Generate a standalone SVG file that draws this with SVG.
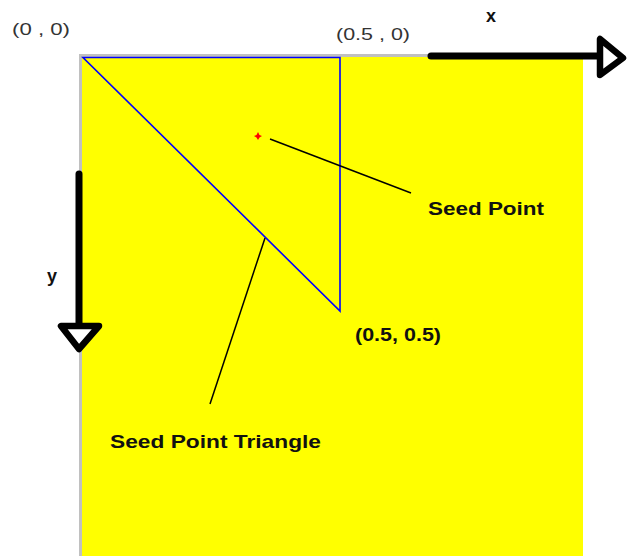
<svg xmlns="http://www.w3.org/2000/svg" width="628" height="556" viewBox="0 0 628 556">
<style>
.lbl{font-family:"Liberation Sans",Arial,sans-serif;fill:#222}
.b{font-weight:bold;font-size:19px;fill:#111}
.r{font-size:16px;fill:#333}
.ax{fill:none;stroke:#000;stroke-width:7;stroke-linecap:round;stroke-linejoin:round}
.head{fill:#fff;stroke:#000;stroke-width:6.5;stroke-linejoin:round}
.lead{stroke:#000;stroke-width:1.5;fill:none}
</style>
<rect width="628" height="556" fill="#fff"/>
<g id="plane">
<rect x="82" y="57" width="501" height="499" fill="#ffff00"/>
<path d="M80.5 556 V55.5 H430" fill="none" stroke="#c0c0c0" stroke-width="3"/>
</g>
<g id="triangle">
<path d="M83 57.5 H340 V311 Z" fill="none" stroke="#0000ff" stroke-width="1.6"/>
</g>
<g id="seed">
<path d="M258 132 L259.5 135 L262 136 L259.5 137.5 L258 140 L256.5 137.5 L254 136 L256.5 135 Z" fill="#ff0000"/>
</g>
<g id="connectors">
<line class="lead" x1="270" y1="139" x2="411" y2="193"/>
<line class="lead" x1="265" y1="238" x2="210" y2="404"/>
<path class="ax" d="M431 56 H600"/>
<path class="head" d="M600 39 V75 L623 58 Z"/>
<path class="ax" d="M79 174 V326"/>
<path class="head" d="M61 326 H99 L79 349 Z"/>
</g>
<g id="labels">
<text class="lbl r" x="12" y="35" textLength="58" lengthAdjust="spacingAndGlyphs">(0 , 0)</text>
<text class="lbl r" x="336" y="40" textLength="74" lengthAdjust="spacingAndGlyphs">(0.5 , 0)</text>
<text class="lbl b" x="486" y="22" style="font-size:18px">x</text>
<text class="lbl b" x="47" y="282" style="font-size:18px">y</text>
<text class="lbl b" x="428" y="215" textLength="116" lengthAdjust="spacingAndGlyphs">Seed Point</text>
<text class="lbl b" x="355" y="341" textLength="86" lengthAdjust="spacingAndGlyphs">(0.5, 0.5)</text>
<text class="lbl b" x="110" y="448" textLength="211" lengthAdjust="spacingAndGlyphs">Seed Point Triangle</text>
</g>
</svg>
